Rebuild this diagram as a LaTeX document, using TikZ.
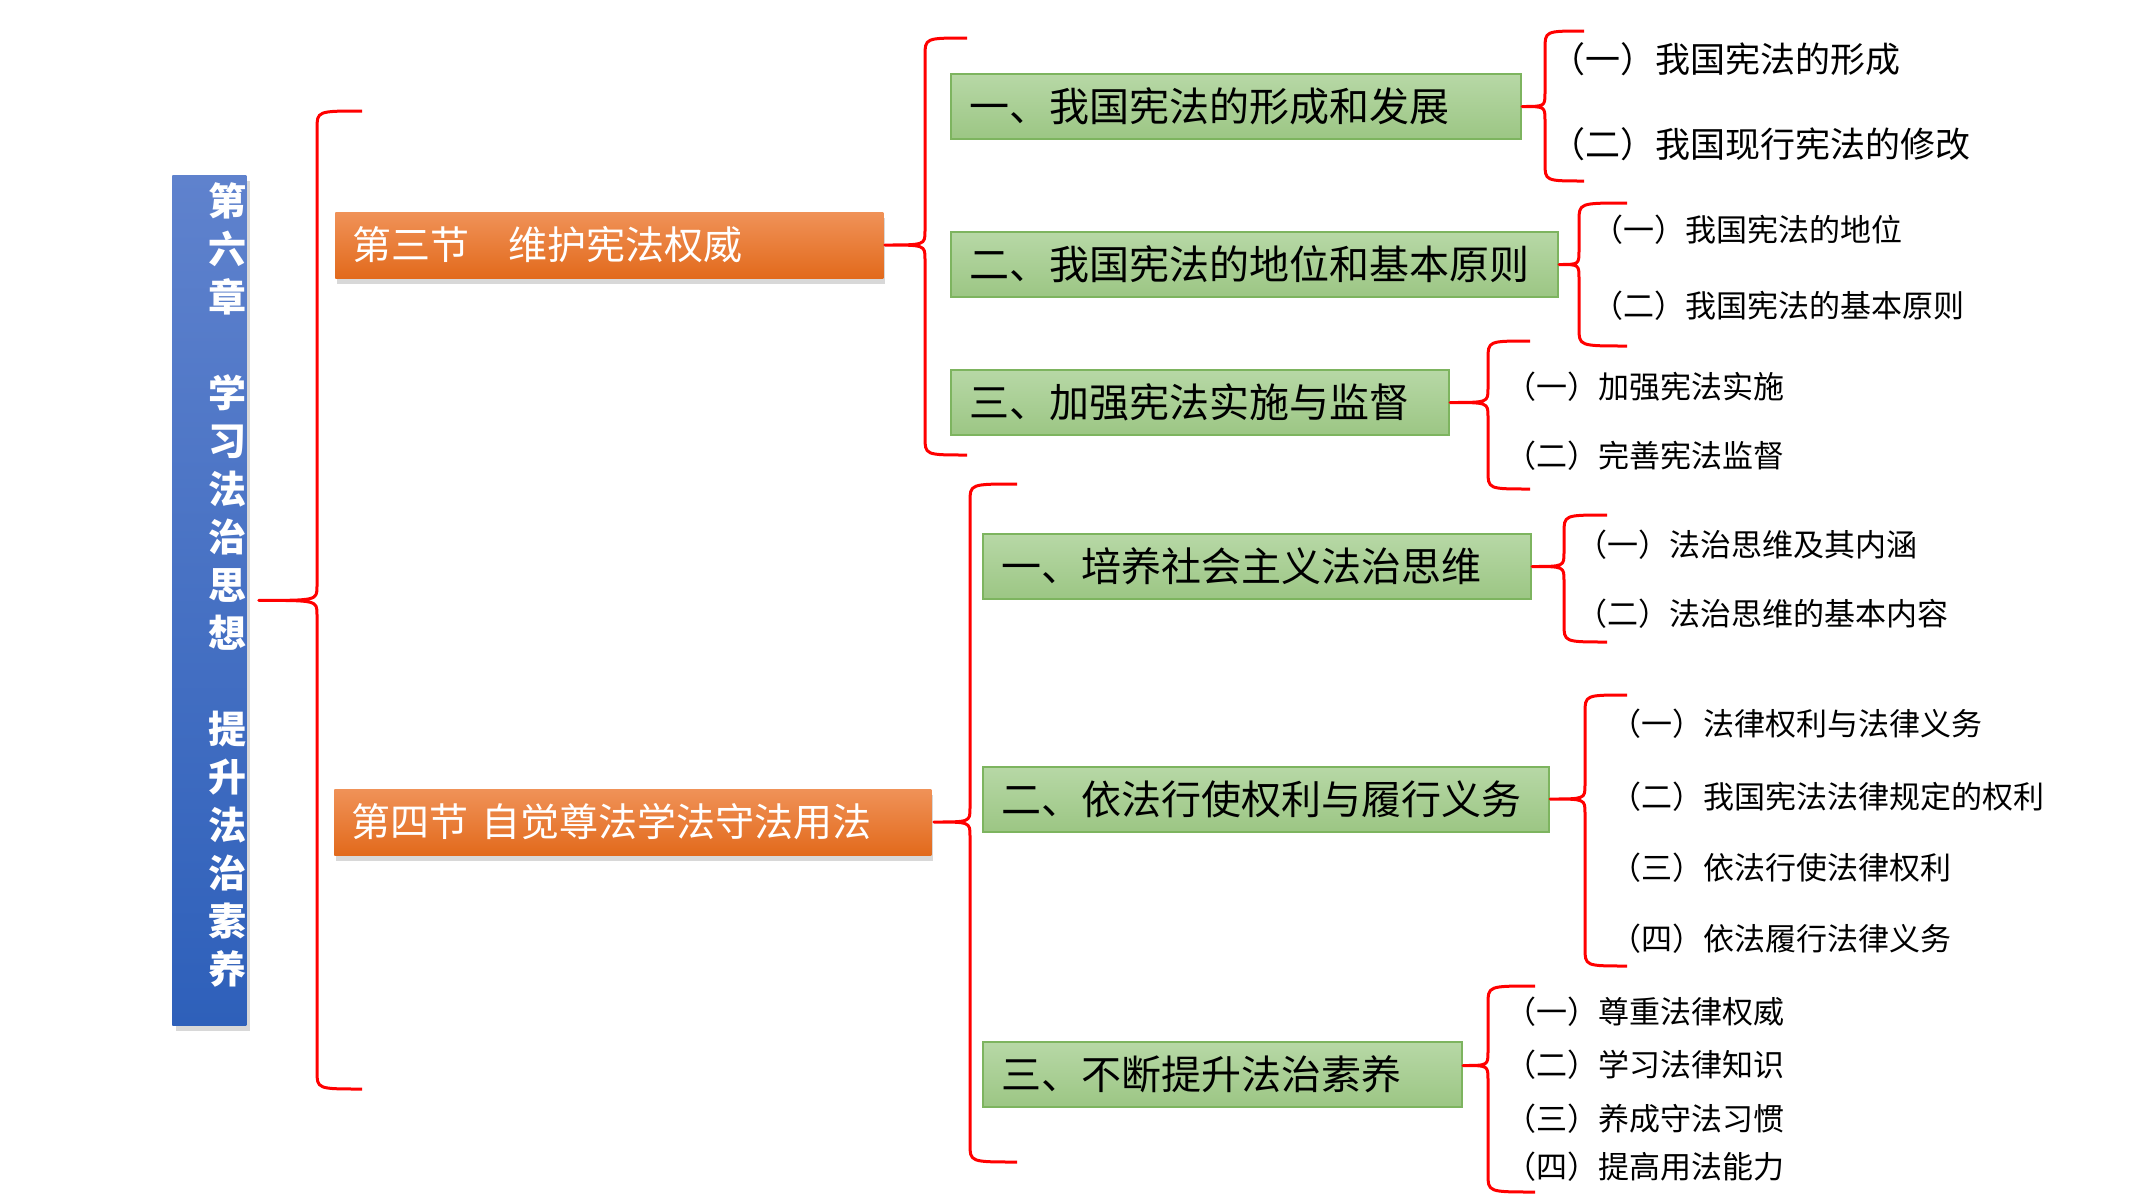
\documentclass[tikz,border=0pt]{standalone}
\usepackage{fontspec}
\setmainfont{Noto Sans CJK SC}
\usetikzlibrary{calc,shadows}
\definecolor{barT}{RGB}{95,130,205}
\definecolor{barB}{RGB}{46,96,186}
\definecolor{orT}{RGB}{240,146,88}
\definecolor{orB}{RGB}{226,106,28}
\definecolor{grT}{RGB}{183,216,166}
\definecolor{grB}{RGB}{156,198,132}
\definecolor{grD}{RGB}{125,180,95}
\newcommand\drawbrace[5]{%
  \draw[bracestyle] let \p1=(#1) in
  (#5*0.5pt,-#3*0.5pt) .. controls (#2*0.5pt,-#3*0.5pt) .. (#2*0.5pt,-#3*0.5pt-9pt)
  -- (#2*0.5pt,\y1+7pt) .. controls (#2*0.5pt,\y1) .. (\p1)
  .. controls (#2*0.5pt,\y1) .. (#2*0.5pt,\y1-7pt)
  -- (#2*0.5pt,-#4*0.5pt+9pt) .. controls (#2*0.5pt,-#4*0.5pt) .. (#5*0.5pt,-#4*0.5pt);}
\begin{document}
\begin{tikzpicture}[x=0.5pt,y=-0.5pt,
  bracestyle/.style={draw=red,line width=1.5pt,line join=round},
  barbox/.style={top color=barT,bottom color=barB,draw=none,
    minimum width=37pt,minimum height=425pt,inner sep=0pt,
    drop shadow={shadow xshift=2pt,shadow yshift=-3pt,opacity=0.3}},
  bartext/.style={text=white,align=center,inner sep=0pt,
    font=\fontsize{19}{24}\selectfont\bfseries},
  obox/.style={top color=orT,bottom color=orB,draw=none,text=white,
    font=\fontsize{19.5}{24}\selectfont,inner xsep=8.5pt,inner ysep=0pt,
    minimum height=33pt,align=left,anchor=west,
    drop shadow={shadow xshift=1pt,shadow yshift=-3pt,opacity=0.3}},
  gbox/.style={top color=grT,bottom color=grB,draw=grD,line width=1pt,
    font=\fontsize{20}{24}\selectfont,inner xsep=9pt,inner ysep=0pt,
    minimum height=32.5pt,align=left,anchor=west},
  itemL/.style={anchor=west,inner sep=0pt,font=\fontsize{17.5}{20}\selectfont},
  itemS/.style={anchor=west,inner sep=0pt,font=\fontsize{15.5}{18}\selectfont}]
\useasboundingbox (0,0) rectangle (2133,1200);
\fill[white] (0,0) rectangle (2133,1200);

% chapter bar
\node[barbox,anchor=north west] (bar) at (172,175) {};
\node[bartext] (bartxt) at (227,585) {第\\六\\章\\\mbox{}\\学\\习\\法\\治\\思\\想\\\mbox{}\\提\\升\\法\\治\\素\\养};

% sections
\node[obox,text width=257pt] (o1) at (335,245) {第三节　维护宪法权威};
\node[obox,text width=281.5pt] (o2) at (334,822) {第四节 自觉尊法学法守法用法};

% green boxes
\node[gbox,text width=267pt] (g1) at (950,106.5) {一、我国宪法的形成和发展};
\node[gbox,text width=285.5pt] (g2) at (950,264.5) {二、我国宪法的地位和基本原则};
\node[gbox,text width=231pt] (g3) at (950,402.5) {三、加强宪法实施与监督};
\node[gbox,text width=256pt] (g4) at (982,566.5) {一、培养社会主义法治思维};
\node[gbox,text width=265pt] (g5) at (982,799) {二、依法行使权利与履行义务};
\node[gbox,text width=221.5pt] (g6) at (982,1074.5) {三、不断提升法治素养};

% items
\node[itemL] (a1) at (1550,59) {（一）我国宪法的形成};
\node[itemL] (a2) at (1550,144) {（二）我国现行宪法的修改};
\node[itemS] (b1) at (1592,230) {（一）我国宪法的地位};
\node[itemS] (b2) at (1592,306) {（二）我国宪法的基本原则};
\node[itemS] (c1) at (1505,387) {（一）加强宪法实施};
\node[itemS] (c2) at (1505,456) {（二）完善宪法监督};
\node[itemS] (d1) at (1576,545) {（一）法治思维及其内涵};
\node[itemS] (d2) at (1576,614) {（二）法治思维的基本内容};
\node[itemS] (e1) at (1610,724) {（一）法律权利与法律义务};
\node[itemS] (e2) at (1610,797) {（二）我国宪法法律规定的权利};
\node[itemS] (e3) at (1610,868) {（三）依法行使法律权利};
\node[itemS] (e4) at (1610,939) {（四）依法履行法律义务};
\node[itemS] (f1) at (1505,1012) {（一）尊重法律权威};
\node[itemS] (f2) at (1505,1065) {（二）学习法律知识};
\node[itemS] (f3) at (1505,1119) {（三）养成守法习惯};
\node[itemS] (f4) at (1505,1167) {（四）提高用法能力};

% braces
\drawbrace{[xshift=6pt]bar.east}{317}{111}{1089}{362}
\drawbrace{[xshift=0.5pt]o1.east}{925}{38}{455}{967}
\drawbrace{[xshift=1pt]o2.east}{970}{484}{1162}{1017}
\drawbrace{g1.east}{1545}{31}{181}{1584}
\drawbrace{g2.east}{1579}{203}{346}{1627}
\drawbrace{g3.east}{1488}{341}{489}{1530}
\drawbrace{g4.east}{1564}{515}{642}{1607}
\drawbrace{g5.east}{1585}{695}{966}{1627}
\drawbrace{[yshift=4.5pt]g6.east}{1488}{986}{1192}{1535}
\end{tikzpicture}
\end{document}
